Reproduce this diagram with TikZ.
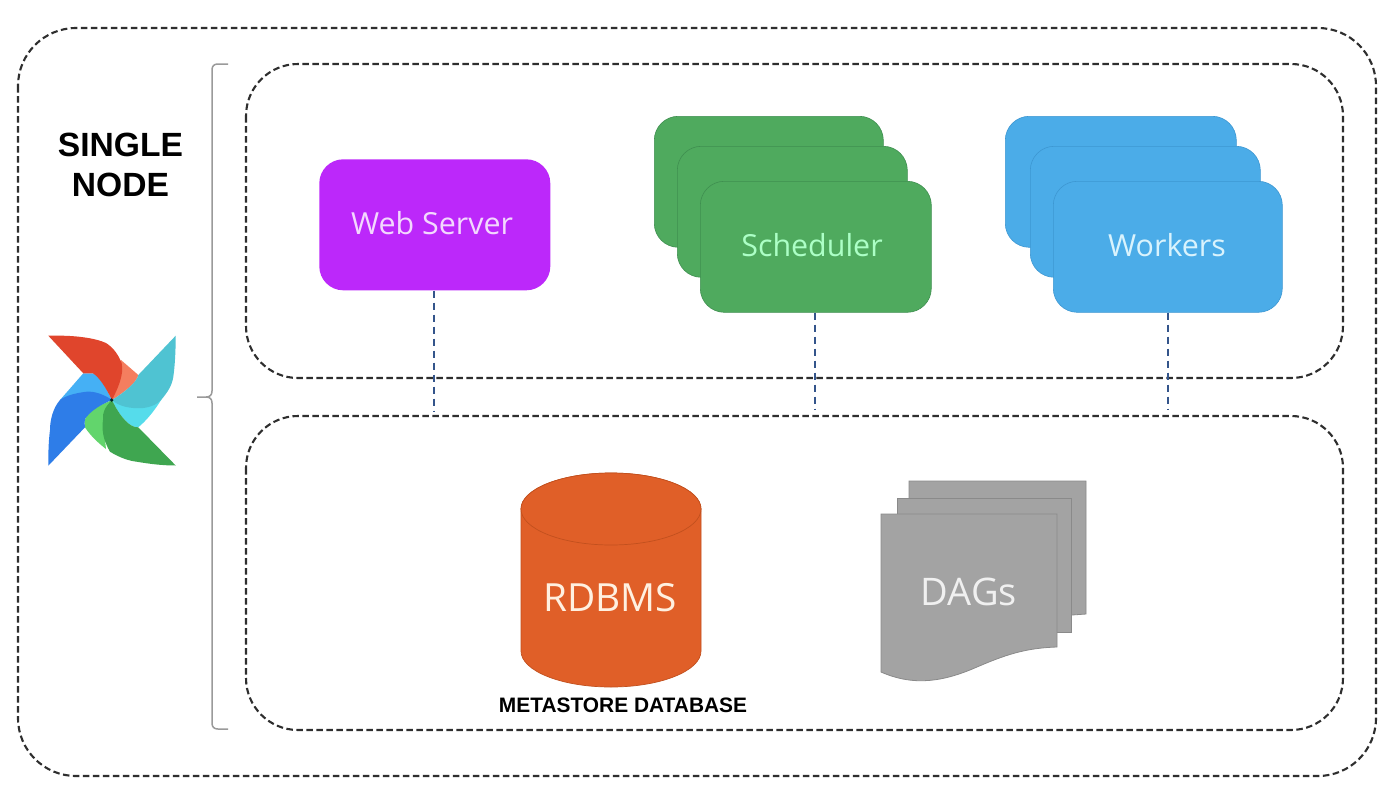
\documentclass[tikz,border=0pt]{standalone}
\usepackage{fontspec}
\setmainfont{Liberation Sans}
\newfontfamily\soft{Open Sans}
\definecolor{framec}{HTML}{2E2E2E}
\definecolor{linkc}{HTML}{34558B}
\definecolor{webc}{HTML}{BC28FA}
\definecolor{schedc}{HTML}{4FAA5E}
\definecolor{schedl}{HTML}{3F8F50}
\definecolor{workc}{HTML}{4BACE8}
\definecolor{workl}{HTML}{3D97D2}
\definecolor{dbc}{HTML}{E05F28}
\definecolor{dbl}{HTML}{C2501E}
\definecolor{dagc}{HTML}{A3A3A3}
\definecolor{dagl}{HTML}{8A8A8A}
\definecolor{bracec}{HTML}{9A9A9A}
\definecolor{lr}{HTML}{E0452C}\definecolor{ls}{HTML}{F47E5F}
\definecolor{lt}{HTML}{4FC3D2}\definecolor{lc}{HTML}{55DCEB}
\definecolor{lg}{HTML}{3FA650}\definecolor{ll}{HTML}{62D56C}
\definecolor{lb}{HTML}{2E7DE8}\definecolor{lh}{HTML}{45B0F5}
\tikzset{
  frame/.style={draw=framec,line width=2.1pt,dash pattern=on 6.5pt off 3.5pt},
  link/.style={draw=linkc,line width=2pt,dash pattern=on 7pt off 5pt},
  card/.style={rounded corners=24pt,line width=0.6pt,minimum height=131pt,inner sep=0pt,anchor=north west},
  sched/.style={card,fill=schedc,draw=schedl},
  work/.style={card,fill=workc,draw=workl},
  page/.style={fill=dagc,draw=dagl,line width=0.8pt},
  softtext/.style={font=\soft\fontsize{30.4}{34}\selectfont,inner sep=0pt},
  headtext/.style={font=\fontsize{33.6}{40}\selectfont\bfseries,align=center,inner sep=0pt},
}
\begin{document}
\begin{tikzpicture}[x=1pt,y=-1pt]
\useasboundingbox (0,0) rectangle (1398,796);
\fill[white] (0,0) rectangle (1398,796);
% frames
\draw[frame,rounded corners=58pt] (18,28) rectangle (1376,776);
\draw[frame,rounded corners=52pt] (246,64) rectangle (1343,378);
\draw[frame,rounded corners=52pt] (246,416) rectangle (1343,730);
% brace
\draw[bracec,line width=1.5pt] (228,64) -- (218,64) .. controls (214,64) and (212,66) .. (212,70) -- (212,391) .. controls (212,395) and (210,397) .. (206,397) -- (197,397) -- (206,397) .. controls (210,397) and (212,399) .. (212,403) -- (212,723) .. controls (212,727) and (214,729) .. (218,729) -- (228,729);
% anchors of connectors
\coordinate (f1) at (434,411);
\coordinate (f2) at (815,409);
\coordinate (f3) at (1168,409);
% web server
\node[card,fill=webc,minimum width=231pt] (web) at (319,159) {};
\node[softtext,text=white!82!webc] (webt) at (432,223) {Web Server};
% scheduler
\node[sched,minimum width=229pt] (s1) at (654,116) {};
\node[sched,minimum width=230pt] (s2) at (677,146) {};
\node[sched,minimum width=231pt] (s3) at (700,181) {};
\node[softtext,text=white!75!green!90!cyan] (s3t) at (812,245) {Scheduler};
% workers
\node[work,minimum width=231pt] (w1) at (1005,116) {};
\node[work,minimum width=230pt] (w2) at (1030,146) {};
\node[work,minimum width=229pt] (w3) at (1053,181) {};
\node[softtext,text=white!85!cyan] (w3t) at (1167,245) {Workers};
% connectors
\draw[link] (web.south -| f1) -- (f1);
\draw[link] (s3.south -| f2) -- (f2);
\draw[link] (w3.south -| f3) -- (f3);
% rdbms
\path[fill=dbc,draw=dbl,line width=0.7pt] (521,509) arc[x radius=90,y radius=36,start angle=180,end angle=360] -- (701,651) arc[x radius=90,y radius=36,start angle=0,end angle=180] -- cycle;
\path[fill=dbc,draw=dbl,line width=0.7pt] (611,509) ellipse[x radius=90,y radius=36];
\node[font=\soft\fontsize{38.8}{44}\selectfont,text=white!88!orange,inner sep=0pt] (db) at (610,598) {RDBMS};
\node[font=\fontsize{20.9}{24}\selectfont\bfseries,inner sep=0pt] (dbname) at (623,705.5) {METASTORE DATABASE};
% dags
\path[page] (909,481) -- (1086,481) -- (1086,614) -- (1058,616) -- (909,616) -- cycle;
\path[page] (897,498) -- (1071,498) -- (1071,632) -- (1050,632) -- (897,632) -- cycle;
\path[page] (881,514) -- (1057,514) -- (1057,647) .. controls (1025,648) and (1005,655) .. (977,667) .. controls (945,681) and (915,687) .. (881,672) -- cycle;
\node[font=\soft\fontsize{38}{44}\selectfont,text=white!94!black,inner sep=0pt] (dag) at (969,592) {DAGs};
% title
\node[headtext] (title) at (120.5,165) {SINGLE\\NODE};
% logo light petals
\fill[ls] (121,360) -- (138.3,375) .. controls (137,382) and (125,392) .. (112,400) -- cycle;
\fill[lc] (112,400) -- (130,406) -- (161.7,399) .. controls (155,410) and (147,420) .. (138.3,427.3) .. controls (130,428) and (120,417) .. (112,400) -- cycle;
\fill[ll] (112,400) .. controls (100,405) and (90,410) .. (86.5,416) .. controls (84,421) and (84,424) .. (85,427.3) .. controls (90,435) and (97,442) .. (106,449) -- (103,420) -- cycle;
\fill[lh] (112,400) .. controls (106,388) and (100,376) .. (93,373.3) -- (83.3,373.3) -- (60,400) -- (86.7,391.7) -- cycle;
% logo dark petals
\fill[lr] (48.3,335.7) .. controls (75,335) and (95,338) .. (106,343) .. controls (114,348) and (119,356) .. (121.7,363.3) .. controls (124,375) and (118,388) .. (112,400) .. controls (106,388) and (100,378) .. (93,373.3) -- (83.3,373.3) -- cycle;
\fill[lt] (175.7,335.7) -- (138.3,375) .. controls (137,382) and (125,392) .. (112,400) .. controls (118,406) and (130,409) .. (143,408) .. controls (152,407) and (157,404) .. (161,400) .. controls (168,392) and (172,385) .. (173.3,377) .. controls (175,365) and (175.7,350) .. (175.7,335.7) -- cycle;
\fill[lg] (175.7,465.5) -- (138.3,427.3) .. controls (130,428) and (120,417) .. (112,400) .. controls (105,407) and (102,413) .. (103,420) .. controls (102,428) and (102,438) .. (110,451.7) .. controls (120,458) and (130,461) .. (136.7,461.7) .. controls (150,464) and (163,465.5) .. (175.7,465.5) -- cycle;
\fill[lb] (48.3,465.7) -- (85,427.3) .. controls (84,421) and (85,418) .. (86.7,416.7) .. controls (92,410) and (102,404) .. (112,400) .. controls (105,395) and (95,391) .. (86.7,391.7) .. controls (75,393) and (65,396) .. (60,400) .. controls (53,408) and (50,420) .. (50,430) .. controls (48.5,442) and (48.3,452) .. (48.3,465.7) -- cycle;
\fill[black!70!teal] (111.7,400) circle (1.8pt);
\end{tikzpicture}
\end{document}
